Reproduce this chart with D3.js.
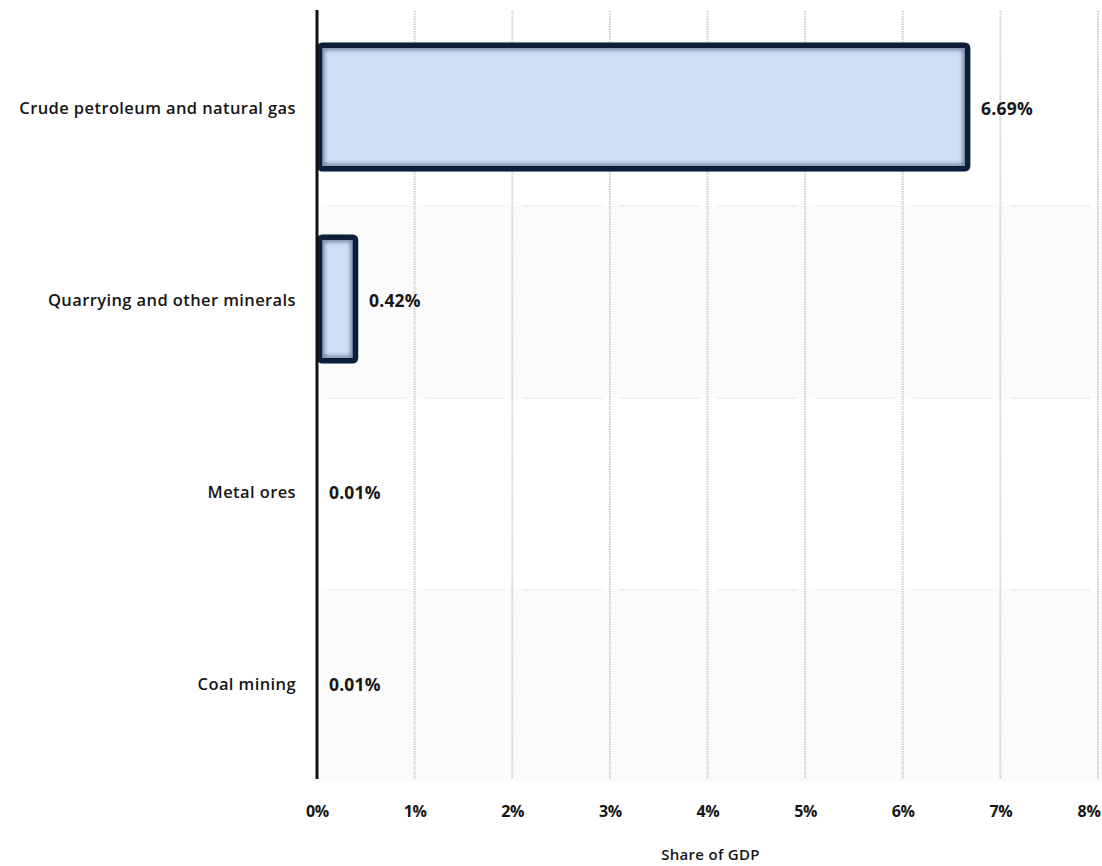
<!DOCTYPE html>
<html><head><meta charset="utf-8">
<script src="https://cdn.jsdelivr.net/npm/d3@7"></script>
<style>
html,body{margin:0;padding:0;background:#fff;}
text{font-family:"Open Sans","DejaVu Sans",sans-serif;}
</style></head>
<body>
<svg id="chart" width="1102" height="866"></svg>
<script>
const categories = ["Crude petroleum and natural gas","Quarrying and other minerals","Metal ores","Coal mining"];
const values = [6.69, 0.42, 0.01, 0.01];
const valueLabels = ["6.69%","0.42%","0.01%","0.01%"];
const xTicks = [0,1,2,3,4,5,6,7,8];
const xTitle = "Share of GDP";

const svg = d3.select("#chart");
const m = {left:317, right:1098, top:11, bottom:779};
const x = d3.scaleLinear().domain([0,8]).range([m.left, m.right]);
const y = d3.scaleBand().domain(categories).range([m.top, m.bottom]).paddingInner(0).paddingOuter(0);
const barPad = 0.165;

const defs = svg.append("defs");
defs.append("filter").attr("id","blur").attr("x","-10%").attr("y","-10%").attr("width","120%").attr("height","120%")
  .append("feGaussianBlur").attr("stdDeviation",2.2);

// alternating bands
svg.append("g").selectAll("rect").data(categories).join("rect")
  .attr("x", m.left).attr("width", m.right - m.left + 4)
  .attr("y", d => y(d) + 3).attr("height", y.bandwidth())
  .attr("fill", (d,i) => i % 2 ? "#fbfbfb" : "#ffffff");

// faint horizontal separators (segmented between vertical lines)
const sepG = svg.append("g");
categories.slice(1).forEach(c => {
  xTicks.slice(0,-1).forEach(t => {
    sepG.append("line")
      .attr("x1", x(t) + 10).attr("x2", x(t+1) - 8)
      .attr("y1", y(c) + 3).attr("y2", y(c) + 3)
      .attr("stroke", "#f0f0f0").attr("stroke-width", 2);
  });
});

// vertical dotted grid
svg.append("g").selectAll("line").data(xTicks.slice(1)).join("line")
  .attr("x1", d => x(d)).attr("x2", d => x(d))
  .attr("y1", m.top).attr("y2", m.bottom)
  .attr("stroke", "#cfcfcf").attr("stroke-width", 2).attr("stroke-dasharray", "1.5,1");

// bars
const bars = svg.append("g");
categories.forEach((c, i) => {
  const v = values[i];
  const w = x(v) - x(0);
  if (w < 3) return;
  const by = y(c) + y.bandwidth() * barPad;
  const bh = y.bandwidth() * (1 - 2 * barPad);
  bars.append("rect")
    .attr("x", x(0)).attr("y", by).attr("width", w).attr("height", bh)
    .attr("rx", 3).attr("fill", "#cfdff5");
  bars.append("rect")
    .attr("x", x(0) + 5).attr("y", by + 5).attr("width", Math.max(w - 10, 1)).attr("height", bh - 10)
    .attr("rx", 4).attr("fill", "none").attr("stroke", "#2d4566").attr("stroke-opacity", 0.7)
    .attr("stroke-width", 4).attr("filter", "url(#blur)");
  bars.append("rect")
    .attr("x", x(0) + 2.5).attr("y", by + 2.5).attr("width", w - 5).attr("height", bh - 5)
    .attr("rx", 3).attr("fill", "none").attr("stroke", "#0c1e38").attr("stroke-width", 5.5);
});

// y axis line
svg.append("line").attr("x1", x(0)).attr("x2", x(0)).attr("y1", m.top - 1).attr("y2", m.bottom)
  .attr("stroke", "#111").attr("stroke-width", 3);

// category labels
svg.append("g").selectAll("text").data(categories).join("text")
  .attr("x", 296).attr("y", d => y(d) + y.bandwidth()/2 + 3)
  .attr("text-anchor", "end").attr("dominant-baseline", "middle")
  .attr("font-size", 16.5).attr("font-weight", 600).attr("fill", "#161616")
  .attr("letter-spacing", "0.4")
  .text(d => d);

// value labels
svg.append("g").selectAll("text").data(categories).join("text")
  .attr("x", (d,i) => x(values[i]) + 11).attr("y", d => y(d) + y.bandwidth()/2 + 3)
  .attr("dominant-baseline", "middle")
  .attr("font-size", 17.5).attr("font-weight", 700).attr("fill", "#161616")
  .attr("letter-spacing", "0.2")
  .text((d,i) => valueLabels[i]);

// x axis via d3.axisBottom
const xAxis = d3.axisBottom(x).tickValues(xTicks).tickFormat(d => d + "%").tickSize(0).tickPadding(0);
const gx = svg.append("g").attr("transform", `translate(0,${m.bottom})`).call(xAxis);
gx.select(".domain").remove();
gx.selectAll("text").attr("dy", 0).attr("y", 38)
  .attr("font-size", 16).attr("font-weight", 700).attr("fill", "#161616")
  .attr("font-family", '"Open Sans", sans-serif').attr("letter-spacing", "-0.3");
gx.selectAll(".tick").filter(d => d === 8).select("text")
  .attr("text-anchor", "end").attr("x", 1100 - x(8));

svg.append("text").attr("x", (m.left + m.right)/2 + 3).attr("y", 860)
  .attr("text-anchor", "middle").attr("font-size", 15).attr("font-weight", 600).attr("fill", "#161616")
  .attr("letter-spacing", "0.3")
  .text(xTitle);
</script>
</body></html>
